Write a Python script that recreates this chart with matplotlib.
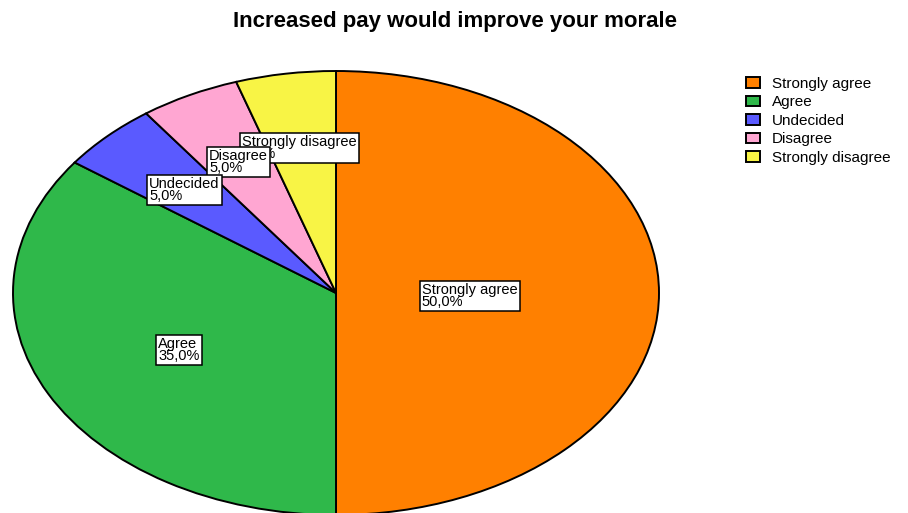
import matplotlib.pyplot as plt
from matplotlib.patches import Patch

plt.rcParams['font.family'] = ['Liberation Sans', 'DejaVu Sans']

categories = ["Strongly agree", "Agree", "Undecided", "Disagree", "Strongly disagree"]
percent = [50.0, 35.0, 5.0, 5.0, 5.0]
colors = ["#FF8000", "#2FB84A", "#5A5AFF", "#FFA6D2", "#F8F445"]

# top-left corner of each slice label (pie data coords)
label_pos = [(0.266, 0.045), (-0.551, -0.198), (-0.579, 0.522),
             (-0.393, 0.648), (-0.291, 0.712)]
label_z = [5, 5, 5, 4, 3]

fig = plt.figure(figsize=(9.08, 5.13), dpi=100)
ax = fig.add_axes([13 / 908, -2 / 513, 646 / 908, 444 / 513])

wedges, _ = ax.pie(percent, colors=colors, startangle=90, counterclock=False,
                   wedgeprops=dict(edgecolor="black", linewidth=1.4))
ax.set_aspect("auto")
ax.set_xlim(-1, 1)
ax.set_ylim(-1, 1)

for name, p, (x, y), z in zip(categories, percent, label_pos, label_z):
    txt = "{}\n{:.1f}%".format(name, p).replace(".", ",")
    ax.text(x, y, txt, ha="left", va="top", fontsize=10.5, linespacing=0.82, zorder=z,
            bbox=dict(boxstyle="square,pad=0.15", facecolor="white", edgecolor="black", linewidth=1.1))

fig.text(0.501, 0.958, "Increased pay would improve your morale", ha="center", va="center",
         fontsize=16, fontweight="bold")

handles = [Patch(facecolor=c, edgecolor="black", linewidth=1.4) for c in colors]
fig.legend(handles, categories, loc="upper left", bbox_to_anchor=(0.815, 0.862), frameon=False,
           fontsize=11, handlelength=0.9, handleheight=0.7, handletextpad=0.8,
           labelspacing=0.29, borderaxespad=0)

fig.savefig("out.png", dpi=100)
